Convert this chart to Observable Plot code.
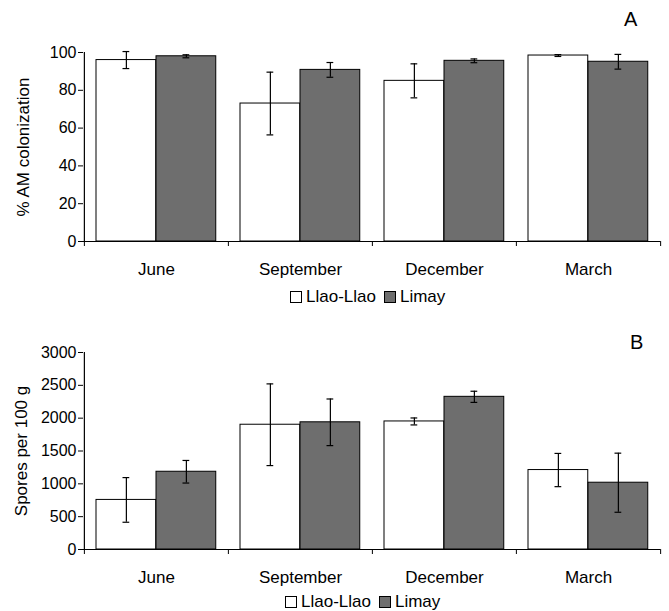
<!DOCTYPE html>
<html>
<head>
<meta charset="utf-8">
<script src="https://cdn.jsdelivr.net/npm/d3@7"></script>
<script src="https://cdn.jsdelivr.net/npm/@observablehq/plot@0.6"></script>
<style>
  body { margin: 0; background: #fff; font-family: "Liberation Sans", Arial, sans-serif; }
  #wrap { position: relative; width: 669px; height: 611px; overflow: hidden; }
  .abs { position: absolute; }
  .title { font-size: 20px; line-height: 22px; }
  .legend { display: flex; align-items: center; font-size: 17px; line-height: 19px; color: #000; }
  .sw { width: 10px; height: 10px; border: 1px solid #000; margin-right: 4px; }
</style>
</head>
<body>
<div id="wrap"></div>
<script>
// ---- data ----
const months = ["June", "September", "December", "March"];
const sites = ["Llao-Llao", "Limay"];

// Panel A: % AM colonization (mean, error)
const colonLlao = [96, 73, 85, 98.4];
const colonLlaoErr = [4.5, 16.6, 9, 0.5];
const colonLimay = [98, 90.8, 95.6, 95.1];
const colonLimayErr = [0.8, 3.9, 1, 3.9];

// Panel B: Spores per 100 g (mean, error)
const sporeLlao = [755, 1900, 1950, 1210];
const sporeLlaoErr = [340, 622, 53, 253];
const sporeLimay = [1184, 1937, 2325, 1017];
const sporeLimayErr = [172, 355, 85, 450];

const yTicksA = [0, 20, 40, 60, 80, 100];
const yTicksB = [0, 500, 1000, 1500, 2000, 2500, 3000];

const fillColors = {"Llao-Llao": "#ffffff", "Limay": "#6e6e6e"};

function rows(vals, errs) {
  return months.map((m, i) => ({month: m, value: vals[i], lo: vals[i] - errs[i], hi: vals[i] + errs[i]}));
}

const W = 669, ML = 83, MR = 9;
const step = (W - ML - MR) / months.length;

function siteMarks(data, site, side) {
  const barIn = 12, barW = 60;
  const left = side === 0 ? barIn : barIn + barW;
  const right = step - left - barW;
  const center = left + barW / 2;
  const dx = center - step / 2;
  const capHalf = 3.5;
  return [
    Plot.barY(data, {x: "month", y: "value", fill: fillColors[site], stroke: "#000", strokeWidth: 1,
      insetLeft: left, insetRight: right}),
    Plot.ruleX(data, {x: "month", y1: "lo", y2: "hi", dx, stroke: "#000", strokeWidth: 1.2}),
    Plot.tickY(data, {x: "month", y: "hi", stroke: "#000", strokeWidth: 1.2,
      insetLeft: center - capHalf, insetRight: step - center - capHalf}),
    Plot.tickY(data, {x: "month", y: "lo", stroke: "#000", strokeWidth: 1.2,
      insetLeft: center - capHalf, insetRight: step - center - capHalf})
  ];
}

const hasAxisMarks = typeof Plot.axisX === "function";

function panel({llao, limay, domain, ticks, label, labelDx, height, marginTop, marginBottom}) {
  const axes = hasAxisMarks ? [
    Plot.axisX({tickSize: 0, tickPadding: 21, fontSize: 17, label: null}),
    Plot.axisY({ticks, tickSize: 5, tickPadding: 2, fontSize: 16, label: null, tickFormat: d3.format("d")})
  ] : [];
  return Plot.plot({
    width: W, height, marginLeft: ML, marginRight: MR, marginTop, marginBottom,
    style: {fontFamily: "'Liberation Sans', Arial, sans-serif", fontSize: "16px", color: "#000", background: "transparent"},
    x: {domain: months, padding: 0, label: null, tickSize: 0, tickPadding: 21},
    y: {domain, ticks, tickSize: 5, tickPadding: 2, label: null, tickFormat: d3.format("d")},
    marks: [
      ...axes,
      ...siteMarks(llao, "Llao-Llao", 0),
      ...siteMarks(limay, "Limay", 1),
      Plot.ruleY([domain[0]], {stroke: "#000", strokeWidth: 1.2}),
      Plot.ruleX([months[0]], {x: d => d, dx: -step / 2, stroke: "#000", strokeWidth: 1.2}),
      Plot.ruleX(months, {x: d => d, dx: -step / 2, y1: () => domain[0], y2: () => domain[0], insetBottom: -5, stroke: "#000"}),
      Plot.ruleX([months[months.length - 1]], {x: d => d, dx: step / 2, y1: () => domain[0], y2: () => domain[0], insetBottom: -5, stroke: "#000"}),
      Plot.text([label], {frameAnchor: "left", rotate: -90, dx: labelDx, textAnchor: "middle", fontSize: 17, fill: "#000"})
    ]
  });
}

const wrap = document.getElementById("wrap");

const svgA = panel({
  llao: rows(colonLlao, colonLlaoErr), limay: rows(colonLimay, colonLimayErr),
  domain: [0, 100], ticks: yTicksA, label: "% AM colonization", labelDx: -60,
  height: 280, marginTop: 52, marginBottom: 39
});
svgA.classList.add("abs");
svgA.style.left = "0px"; svgA.style.top = "0px";
wrap.appendChild(svgA);

const svgB = panel({
  llao: rows(sporeLlao, sporeLlaoErr), limay: rows(sporeLimay, sporeLimayErr),
  domain: [0, 3000], ticks: yTicksB, label: "Spores per 100 g", labelDx: -62,
  height: 280, marginTop: 42, marginBottom: 41
});
svgB.classList.add("abs");
svgB.style.left = "0px"; svgB.style.top = "310px";
wrap.appendChild(svgB);

function addTitle(text, left, top) {
  const d = document.createElement("div");
  d.className = "abs title";
  d.textContent = text;
  d.style.left = left + "px"; d.style.top = top + "px";
  wrap.appendChild(d);
}
addTitle("A", 624, 8);
addTitle("B", 630, 331);

function addLegend(left, top) {
  const lg = document.createElement("div");
  lg.className = "abs legend";
  lg.style.left = left + "px"; lg.style.top = top + "px";
  sites.forEach((s, i) => {
    const sw = document.createElement("span");
    sw.className = "sw";
    sw.style.background = fillColors[s];
    if (i > 0) sw.style.marginLeft = "8px";
    const t = document.createElement("span");
    t.textContent = s;
    lg.appendChild(sw); lg.appendChild(t);
  });
  wrap.appendChild(lg);
}
addLegend(290, 287);
addLegend(285, 592);
</script>
</body>
</html>
